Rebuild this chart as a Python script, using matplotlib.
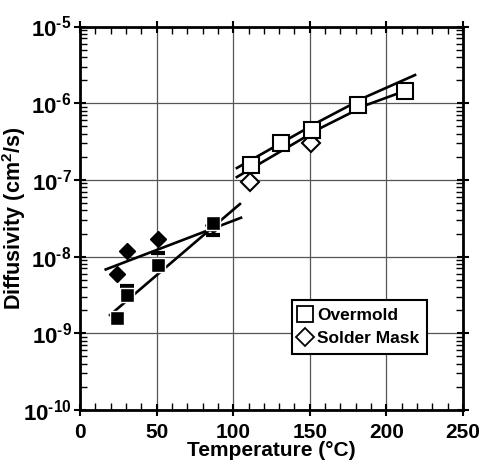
import numpy as np
import matplotlib
matplotlib.use("Agg")
import matplotlib.pyplot as plt
from matplotlib.ticker import MultipleLocator, LogLocator, NullFormatter

plt.rcParams['font.family'] = ['Liberation Sans', 'DejaVu Sans']
plt.rcParams['font.weight'] = 'bold'
plt.rcParams['mathtext.fontset'] = 'custom'
plt.rcParams['mathtext.rm'] = 'Liberation Sans:bold'
plt.rcParams['mathtext.bf'] = 'Liberation Sans:bold'

# Datos: baja temperatura (símbolos rellenos)
low_T_sq = [24, 31, 51, 87]
low_D_sq = [1.6e-9, 3.2e-9, 7.8e-9, 2.73e-8]
low_T_bar = [31, 51, 87]
low_D_bar = [4.1e-9, 1.13e-8, 1.93e-8]
low_T_dm = [24, 30.5, 50.6, 87]
low_D_dm = [5.9e-9, 1.19e-8, 1.69e-8, 2.6e-8]

# Datos: alta temperatura (símbolos abiertos)
high_T_sq = [111.5, 131.5, 151.5, 181.5, 212]
high_D_sq = [1.58e-7, 3.0e-7, 4.5e-7, 9.4e-7, 1.46e-6]
high_T_dm = [111, 151]
high_D_dm = [9.3e-8, 3.03e-7]

# Ajustes
fit_low_sq_T = [19.6, 104.4]
fit_low_sq_D = [1.73e-9, 4.85e-8]
fit_low_dm_T = [16.8, 105.1]
fit_low_dm_D = [6.8e-9, 3.21e-8]
fit_high_up_T = [102.4, 156.7, 187.0, 218.7]
fit_high_up_D = [1.43e-7, 5.86e-7, 1.22e-6, 2.33e-6]
fit_high_lo_T = [102.4, 156.7, 187.1, 215.4]
fit_high_lo_D = [1.09e-7, 4.71e-7, 9.5e-7, 1.53e-6]

exps = [-10, -9, -8, -7, -6, -5]

fig = plt.figure(figsize=(4.82, 4.68), dpi=100)
ax = fig.add_axes([80 / 482, 1 - 410 / 468, 383 / 482, 383.5 / 468])
ax.set_yscale('log')
ax.set_xlim(0, 250)
ax.set_ylim(1e-10, 1e-5)

ax.grid(True, which='major', color='#555555', lw=0.9)
ax.set_axisbelow(True)

lw = 1.9
ax.plot(fit_low_sq_T, fit_low_sq_D, color='black', lw=lw, zorder=3)
ax.plot(fit_low_dm_T, fit_low_dm_D, color='black', lw=lw, zorder=3)
ax.plot(fit_high_up_T, fit_high_up_D, color='black', lw=lw, zorder=3)
ax.plot(fit_high_lo_T, fit_high_lo_D, color='black', lw=lw, zorder=3)

ax.plot(low_T_bar, low_D_bar, ls='none', marker='_', ms=10, mew=3, color='black', zorder=4)
ax.plot(low_T_dm, low_D_dm, ls='none', marker='D', ms=8, color='black', zorder=4)
ax.plot(low_T_sq, low_D_sq, ls='none', marker='s', ms=10, color='black',
        mec='white', mew=1.0, zorder=5)
ax.plot(high_T_dm, high_D_dm, ls='none', marker='D', ms=9, mfc='white', mec='black',
        mew=1.5, zorder=5)
ax.plot(high_T_sq, high_D_sq, ls='none', marker='s', ms=11.5, mfc='white', mec='black',
        mew=1.5, zorder=6)

# Leyenda
h1, = ax.plot([], [], ls='none', marker='s', ms=11, mfc='white', mec='black', mew=1.3,
              label='Overmold')
h2, = ax.plot([], [], ls='none', marker='D', ms=9, mfc='white', mec='black', mew=1.3,
              label='Solder Mask')
leg = ax.legend(handles=[h1, h2], loc='lower left', bbox_to_anchor=(0.553, 0.146),
                fancybox=False, framealpha=1, edgecolor='black', handlelength=0.6,
                handletextpad=0.4, borderpad=0.45, labelspacing=0.45, borderaxespad=0,
                prop={'size': 12.5, 'weight': 'bold'})
leg.get_frame().set_linewidth(1.5)

# Ejes y marcas
ax.xaxis.set_major_locator(MultipleLocator(50))
ax.xaxis.set_minor_locator(MultipleLocator(10))
ax.set_yticks([10.0 ** e for e in exps])
ax.yaxis.set_minor_locator(LogLocator(base=10, subs=np.arange(2, 10), numticks=10))
ax.yaxis.set_minor_formatter(NullFormatter())
ax.set_yticklabels([r'$\mathbf{10^{\text{-}%d}}$' % abs(e) for e in exps])

ax.tick_params(which='major', direction='inout', length=8, width=1.5, top=True, right=True)
ax.tick_params(which='minor', direction='in', length=5, width=1.0, top=True, right=True)
ax.tick_params(axis='x', which='major', labelsize=15, pad=5)
ax.tick_params(axis='y', which='major', labelsize=16, pad=2)
for lab in ax.get_xticklabels():
    lab.set_fontweight('bold')
for s in ax.spines.values():
    s.set_linewidth(2)

ax.set_xlabel('Temperature (°C)', fontsize=15, fontweight='bold', labelpad=0)
ax.set_ylabel('Diffusivity (cm$^2$/s)', fontsize=15.5, fontweight='bold')
ax.yaxis.set_label_coords(-0.135, 0.5)

fig.savefig('out.png', dpi=100)
